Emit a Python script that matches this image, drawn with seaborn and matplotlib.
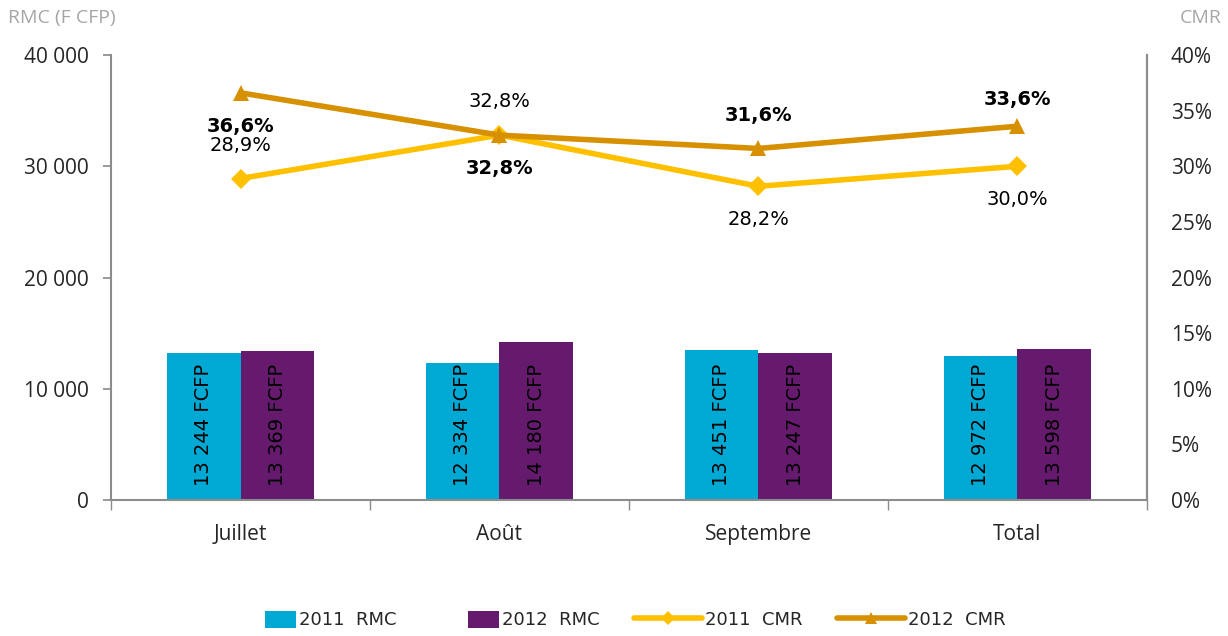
import numpy as np
import pandas as pd
import matplotlib
matplotlib.use("Agg")
import matplotlib.pyplot as plt
from matplotlib.patches import Patch, Rectangle
from matplotlib.lines import Line2D
from matplotlib.legend_handler import HandlerPatch
from matplotlib.ticker import FuncFormatter, FixedLocator
import seaborn as sns

# Data
mois = ["Juillet", "Août", "Septembre", "Total"]
rmc_2011 = [13244, 12334, 13451, 12972]
rmc_2012 = [13369, 14180, 13247, 13598]
cmr_2011 = [28.9, 32.8, 28.2, 30.0]
cmr_2012 = [36.6, 32.8, 31.6, 33.6]
series_rmc = ["2011  RMC", "2012  RMC"]
series_cmr = ["2011  CMR", "2012  CMR"]

c_2011_rmc = "#00A9D4"
c_2012_rmc = "#651A6E"
c_2011_cmr = "#FFC000"
c_2012_cmr = "#D69000"
axis_grey = "#8C8C8C"

sns.set_theme(style="white")
plt.rcParams["font.family"] = ["Open Sans", "DejaVu Sans"]

fig = plt.figure(figsize=(12.28, 6.36), dpi=100)
ax = fig.add_axes([0.0904, 0.2138, 0.8436, 0.6997])

df = pd.DataFrame({
    "mois": mois * 2,
    "rmc": rmc_2011 + rmc_2012,
    "serie": [series_rmc[0]] * 4 + [series_rmc[1]] * 4,
})
sns.barplot(data=df, x="mois", y="rmc", hue="serie", order=mois,
            hue_order=series_rmc, palette=[c_2011_rmc, c_2012_rmc],
            width=0.57, saturation=1, errorbar=None, legend=False,
            linewidth=0, ax=ax)

# Vertical value labels inside the bars, anchored near the base
for cont in ax.containers:
    for rect in cont:
        h = rect.get_height()
        s = f"{int(round(h)):,}".replace(",", " ") + " FCFP"
        ax.text(rect.get_x() + rect.get_width() / 2, 1300, s,
                rotation=90, ha="center", va="bottom",
                fontsize=14, family="DejaVu Sans", color="black")

ax.set_xlim(-0.5, 3.5)
ax.set_ylim(0, 40000)
ax.set_yticks(np.arange(0, 40001, 10000))
ax.yaxis.set_major_formatter(FuncFormatter(lambda v, p: f"{int(v):,}".replace(",", " ")))
ax.set_xlabel("")
ax.set_ylabel("")
ax.tick_params(axis="y", labelsize=15, length=6, color=axis_grey, direction="out", left=True, pad=10)
ax.tick_params(axis="x", labelsize=15, length=0, pad=17)
ax.xaxis.set_minor_locator(FixedLocator([-0.5, 0.5, 1.5, 2.5, 3.5]))
ax.tick_params(axis="x", which="minor", length=7, color=axis_grey, direction="out", bottom=True)
ax.spines["top"].set_visible(False)
for side in ["left", "bottom", "right"]:
    ax.spines[side].set_color(axis_grey)
    ax.spines[side].set_linewidth(1.5)

# Secondary axis: rates
ax2 = ax.twinx()
x = np.arange(len(mois))
sns.lineplot(x=x, y=cmr_2011, ax=ax2, color=c_2011_cmr, lw=4, marker="D",
             markersize=10, markeredgewidth=0)
sns.lineplot(x=x, y=cmr_2012, ax=ax2, color=c_2012_cmr, lw=4, marker="^",
             markersize=12, markeredgewidth=0)
ax2.set_ylim(0, 40)
ax2.set_yticks(np.arange(0, 41, 5))
ax2.yaxis.set_major_formatter(FuncFormatter(lambda v, p: f"{int(v)}%"))
ax2.tick_params(axis="y", labelsize=15, length=0, pad=17)
ax2.set_xlim(-0.5, 3.5)
for side in ["top", "left", "bottom"]:
    ax2.spines[side].set_visible(False)
ax2.spines["right"].set_color(axis_grey)
ax2.spines["right"].set_linewidth(1.5)

def fmt_pct(v):
    return f"{v:.1f}%".replace(".", ",")

# Offsets (points) for rate labels: positive above, negative below
off_2011 = [24, 24, -24, -24]
off_2012 = [-24, -24, 24, 19]
for i in range(len(mois)):
    ax2.annotate(fmt_pct(cmr_2011[i]), (x[i], cmr_2011[i]), xytext=(0, off_2011[i]),
                 textcoords="offset points", ha="center", va="center",
                 fontsize=14, family="DejaVu Sans", color="black")
    ax2.annotate(fmt_pct(cmr_2012[i]), (x[i], cmr_2012[i]), xytext=(0, off_2012[i]),
                 textcoords="offset points", ha="center", va="center",
                 fontsize=14, family="DejaVu Sans", fontweight="bold", color="black")

# Axis titles
fig.text(8 / 1228, 1 - 18 / 636, "RMC (F CFP)", fontsize=14, color="#A6A6A6",
         ha="left", va="center")
fig.text(1222 / 1228, 1 - 18 / 636, "CMR", fontsize=14, color="#A6A6A6",
         ha="right", va="center")


# Short legend swatch for the bars, aligned to the right of its handle box
class ShortPatch(HandlerPatch):
    def create_artists(self, legend, orig_handle, xdescent, ydescent,
                       width, height, fontsize, trans):
        w = width * 0.45
        r = Rectangle((-xdescent + width - w, -ydescent - height * 0.1), w, height * 1.1,
                      facecolor=orig_handle.get_facecolor(), edgecolor="none",
                      transform=trans)
        return [r]


handles = [
    Patch(facecolor=c_2011_rmc, label=series_rmc[0]),
    Patch(facecolor=c_2012_rmc, label=series_rmc[1]),
    Line2D([], [], color=c_2011_cmr, lw=4, marker="D", markersize=7, markeredgewidth=0, label=series_cmr[0]),
    Line2D([], [], color=c_2012_cmr, lw=4, marker="^", markersize=9, markeredgewidth=0, label=series_cmr[1]),
]
fig.legend(handles=handles, loc="center", bbox_to_anchor=(0.502, 1 - 620 / 636),
           ncol=4, frameon=False, prop={"family": "DejaVu Sans", "size": 13},
           handlelength=3.8, handletextpad=0.15, columnspacing=1.9, handleheight=0.9,
           handler_map={Patch: ShortPatch()})

fig.savefig("out.png", dpi=100)
